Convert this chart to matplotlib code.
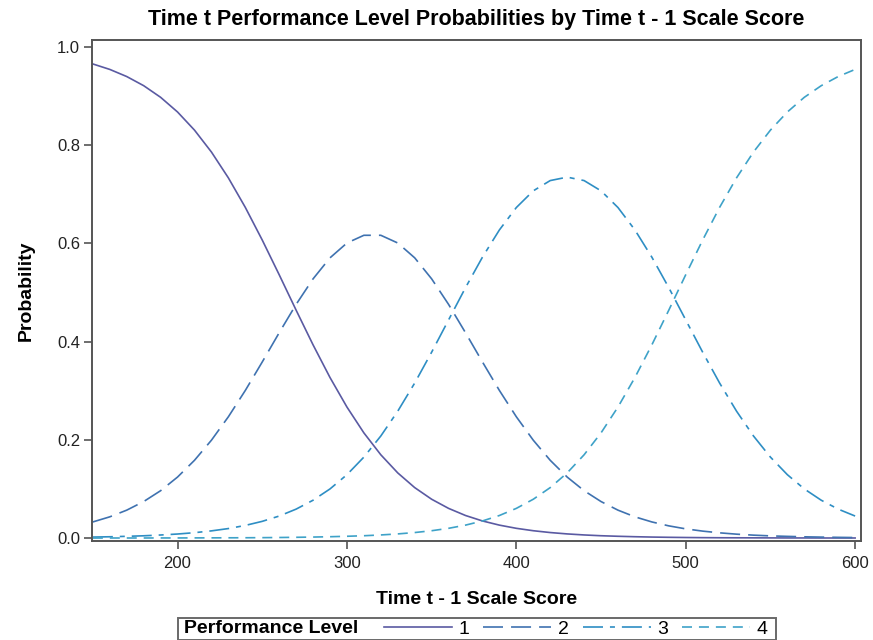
import matplotlib
matplotlib.use("Agg")
import matplotlib.pyplot as plt
from matplotlib.offsetbox import DrawingArea, HPacker

plt.rcParams["font.family"] = ["Liberation Sans", "DejaVu Sans"]
plt.rcParams["lines.scale_dashes"] = False

# Prior-year scale score grid
scale_score = [150, 160, 170, 180, 190, 200, 210, 220, 230, 240,
               250, 260, 270, 280, 290, 300, 310, 320, 330, 340,
               350, 360, 370, 380, 390, 400, 410, 420, 430, 440,
               450, 460, 470, 480, 490, 500, 510, 520, 530, 540,
               550, 560, 570, 580, 590, 600]

# Probability of each performance level at time t
level1 = [0.9652, 0.9541, 0.9396, 0.9210, 0.8973, 0.8674, 0.8305, 0.7859, 0.7333, 0.6732,
          0.6067, 0.5361, 0.4639, 0.3933, 0.3268, 0.2667, 0.2141, 0.1695, 0.1326, 0.1027,
          0.0790, 0.0604, 0.0459, 0.0348, 0.0263, 0.0198, 0.0149, 0.0112, 0.0084, 0.0063,
          0.0047, 0.0036, 0.0027, 0.0020, 0.0015, 0.0011, 0.0008, 0.0006, 0.0005, 0.0004,
          0.0003, 0.0002, 0.0002, 0.0001, 0.0001, 0.0001]
level2 = [0.0328, 0.0432, 0.0568, 0.0743, 0.0964, 0.1242, 0.1583, 0.1992, 0.2469, 0.3005,
          0.3585, 0.4180, 0.4757, 0.5277, 0.5705, 0.6007, 0.6164, 0.6164, 0.6007, 0.5705,
          0.5277, 0.4757, 0.4180, 0.3585, 0.3005, 0.2469, 0.1992, 0.1583, 0.1242, 0.0964,
          0.0743, 0.0568, 0.0432, 0.0328, 0.0248, 0.0187, 0.0141, 0.0106, 0.0079, 0.0059,
          0.0044, 0.0034, 0.0025, 0.0019, 0.0014, 0.0010]
level3 = [0.0020, 0.0026, 0.0035, 0.0046, 0.0062, 0.0082, 0.0109, 0.0146, 0.0193, 0.0257,
          0.0340, 0.0448, 0.0589, 0.0770, 0.1000, 0.1290, 0.1648, 0.2078, 0.2583, 0.3156,
          0.3784, 0.4441, 0.5098, 0.5719, 0.6273, 0.6729, 0.7069, 0.7278, 0.7348, 0.7278,
          0.7069, 0.6729, 0.6273, 0.5719, 0.5098, 0.4441, 0.3784, 0.3156, 0.2583, 0.2078,
          0.1648, 0.1290, 0.1000, 0.0770, 0.0589, 0.0448]
level4 = [0.0000, 0.0001, 0.0001, 0.0001, 0.0002, 0.0002, 0.0003, 0.0004, 0.0005, 0.0006,
          0.0008, 0.0011, 0.0015, 0.0020, 0.0027, 0.0036, 0.0047, 0.0063, 0.0084, 0.0112,
          0.0149, 0.0198, 0.0263, 0.0348, 0.0459, 0.0604, 0.0790, 0.1027, 0.1326, 0.1695,
          0.2141, 0.2667, 0.3268, 0.3933, 0.4639, 0.5361, 0.6067, 0.6732, 0.7333, 0.7859,
          0.8305, 0.8674, 0.8973, 0.9210, 0.9396, 0.9541]

level_labels = ["1", "2", "3", "4"]
x_ticks = [200, 300, 400, 500, 600]
y_ticks = [0.0, 0.2, 0.4, 0.6, 0.8, 1.0]

colors = ["#5a5aa2", "#3f72b0", "#2e8ec4", "#3ea2c8"]
dashes = [None, (14.4, 5.8), (14.4, 5.0, 3.6, 5.0), (7.2, 5.0)]

fig = plt.figure(figsize=(8.73, 6.4), dpi=100)
ax = fig.add_axes([0.1054, 0.1547, 0.8809, 0.7828])

series = [level1, level2, level3, level4]
handles = []
for vals, col, dsh, lab in zip(series, colors, dashes, level_labels):
    if dsh is None:
        ln, = ax.plot(scale_score, vals, color=col, lw=1.2, label=lab)
    else:
        ln, = ax.plot(scale_score, vals, color=col, lw=1.2, label=lab,
                      linestyle=(0, dsh))
    handles.append(ln)

ax.set_xlim(149.5, 603.5)
ax.set_ylim(-0.006, 1.014)
ax.set_xticks(x_ticks)
ax.set_yticks(y_ticks)
ax.set_yticklabels([f"{v:.1f}" for v in y_ticks])

for sp in ax.spines.values():
    sp.set_color("#555555")
    sp.set_linewidth(1.4)
ax.tick_params(axis="both", direction="out", length=5.5, width=1.2,
               color="#555555", labelsize=12, labelcolor="#222222")
ax.tick_params(axis="x", pad=5)
ax.tick_params(axis="y", pad=3)

ax.set_title("Time t Performance Level Probabilities by Time t - 1 Scale Score",
             fontsize=15.5, fontweight="bold", pad=11)
ax.set_xlabel("Time t - 1 Scale Score", fontsize=14, fontweight="bold", labelpad=15)
ax.set_ylabel("Probability", fontsize=14, fontweight="bold", labelpad=16)

leg = fig.legend(handles=handles, labels=level_labels, ncol=4,
                 title="Performance Level", loc="lower center",
                 bbox_to_anchor=(0.546, 0.0), frameon=True, fancybox=False,
                 fontsize=14, title_fontsize=14, handlelength=3.5,
                 handletextpad=0.35, columnspacing=0.7, borderpad=0.12,
                 borderaxespad=0.0)
leg.get_title().set_fontweight("bold")
leg.get_frame().set_edgecolor("#444444")
leg.get_frame().set_linewidth(1.4)
# lay the legend out in one row: title on the left, then the entries
box = leg.get_children()[0]
title_box, entries_box = box.get_children()
box.__class__ = HPacker
box.sep = 0
box.align = "center"
box._children = [DrawingArea(3, 1), title_box, DrawingArea(18.5, 1),
                 entries_box, DrawingArea(4, 1)]

fig.savefig("out.png", dpi=100)
